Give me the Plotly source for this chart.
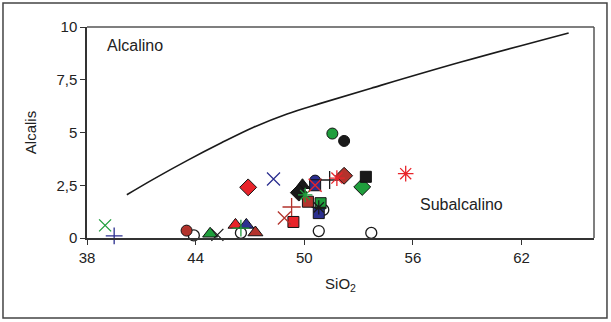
import plotly.graph_objects as go

# Alkaline / subalkaline divide (SiO2, Na2O+K2O)
div_sio2 = [40.2, 41.65, 43.55, 45.4, 47.2, 49.05, 50.9, 53.7, 58.7, 64.6]
div_alk = [2.05, 2.78, 3.68, 4.5, 5.25, 5.88, 6.38, 7.1, 8.35, 9.72]

x_ticks = [38, 44, 50, 56, 62]
y_ticks = [0, 2.5, 5, 7.5, 10]
y_tick_text = ["0", "2,5", "5", "7,5", "10"]

GREEN = "#1f9e3c"
RED = "#e8242a"
BROWN = "#b3332c"
BLUE = "#2b2f8f"
BLACK = "#1a1a1a"

# sample groups: SiO2 values and alkali values
green_x_sio2, green_x_alk = [39.0], [0.6]
blue_plus_sio2, blue_plus_alk = [39.5], [0.1]
brown_circle_sio2, brown_circle_alk = [43.5], [0.35]
open_circle_sio2 = [43.9, 46.5, 51.05, 50.8, 53.7]
open_circle_alk = [0.12, 0.24, 1.33, 0.33, 0.24]
green_tri_sio2, green_tri_alk = [44.8], [0.2]
black_x_sio2, black_x_alk = [45.2], [0.15]
red_tri_sio2, red_tri_alk = [46.2], [0.62]
blue_tri_sio2, blue_tri_alk = [46.8], [0.62]
green_plus_sio2, green_plus_alk = [46.5], [0.47]
brown_tri_sio2, brown_tri_alk = [47.3], [0.26]
red_diam_sio2, red_diam_alk = [46.9], [2.4]
blue_x_sio2, blue_x_alk = [48.3], [2.8]
brown_plus_sio2, brown_plus_alk = [49.3], [1.47]
brown_x_sio2, brown_x_alk = [48.9], [0.95]
red_sq_sio2, red_sq_alk = [49.4], [0.76]
black_tri_sio2, black_tri_alk = [49.9], [2.5]
black_diam_sio2, black_diam_alk = [49.7], [2.15]
green_ast_sio2, green_ast_alk = [50.05], [2.04]
brown_sq_sio2, brown_sq_alk = [50.2], [1.72]
blue_circle_sio2, blue_circle_alk = [50.6], [2.72]
blue_sq_sio2, blue_sq_alk = [50.6, 50.8], [2.5, 1.18]
red_x_sio2, red_x_alk = [50.6], [2.5]
green_sq_sio2, green_sq_alk = [50.9], [1.65]
black_ast_sio2, black_ast_alk = [50.8], [1.45]
black_plus_sio2, black_plus_alk = [51.4], [2.75]
red_ast_sio2, red_ast_alk = [51.8, 55.6], [2.84, 3.05]
brown_diam_sio2, brown_diam_alk = [52.2], [2.95]
green_diam_sio2, green_diam_alk = [53.2], [2.42]
black_sq_sio2, black_sq_alk = [53.4], [2.9]
green_circle_sio2, green_circle_alk = [51.55], [4.95]
black_circle_sio2, black_circle_alk = [52.2], [4.6]

groups = [
    ("open_circle", "circle-open", BLACK, open_circle_sio2, open_circle_alk, 11),
    ("brown_circle", "circle", BROWN, brown_circle_sio2, brown_circle_alk, 11),
    ("green_tri", "triangle-up", GREEN, green_tri_sio2, green_tri_alk, 13),
    ("red_tri", "triangle-up", RED, red_tri_sio2, red_tri_alk, 13),
    ("blue_tri", "triangle-up", BLUE, blue_tri_sio2, blue_tri_alk, 13),
    ("brown_tri", "triangle-up", BROWN, brown_tri_sio2, brown_tri_alk, 13),
    ("red_diam", "diamond", RED, red_diam_sio2, red_diam_alk, 13),
    ("red_sq", "square", RED, red_sq_sio2, red_sq_alk, 11),
    ("black_tri", "triangle-up", BLACK, black_tri_sio2, black_tri_alk, 13),
    ("black_diam", "diamond", BLACK, black_diam_sio2, black_diam_alk, 13),
    ("brown_sq", "square", BROWN, brown_sq_sio2, brown_sq_alk, 11),
    ("blue_circle", "circle", BLUE, blue_circle_sio2, blue_circle_alk, 11),
    ("blue_sq", "square", BLUE, blue_sq_sio2, blue_sq_alk, 11),
    ("green_sq", "square", GREEN, green_sq_sio2, green_sq_alk, 11),
    ("brown_diam", "diamond", BROWN, brown_diam_sio2, brown_diam_alk, 13),
    ("green_diam", "diamond", GREEN, green_diam_sio2, green_diam_alk, 13),
    ("black_sq", "square", BLACK, black_sq_sio2, black_sq_alk, 11),
    ("green_circle", "circle", GREEN, green_circle_sio2, green_circle_alk, 11),
    ("black_circle", "circle", BLACK, black_circle_sio2, black_circle_alk, 11),
    ("green_x", "x-thin-open", GREEN, green_x_sio2, green_x_alk, 12),
    ("blue_plus", "cross-thin-open", BLUE, blue_plus_sio2, blue_plus_alk, 12),
    ("black_x", "x-thin-open", BLACK, black_x_sio2, black_x_alk, 12),
    ("green_plus", "cross-thin-open", GREEN, green_plus_sio2, green_plus_alk, 12),
    ("blue_x", "x-thin-open", BLUE, blue_x_sio2, blue_x_alk, 13),
    ("brown_plus", "cross-thin-open", BROWN, brown_plus_sio2, brown_plus_alk, 13),
    ("brown_x", "x-thin-open", BROWN, brown_x_sio2, brown_x_alk, 13),
    ("green_ast", "asterisk-open", GREEN, green_ast_sio2, green_ast_alk, 12),
    ("red_x", "x-thin-open", RED, red_x_sio2, red_x_alk, 13),
    ("black_ast", "asterisk-open", BLACK, black_ast_sio2, black_ast_alk, 12),
    ("black_plus", "cross-thin-open", BLACK, black_plus_sio2, black_plus_alk, 13),
    ("red_ast", "asterisk-open", RED, red_ast_sio2, red_ast_alk, 13),
]

fig = go.Figure()

fig.add_trace(go.Scatter(
    x=div_sio2, y=div_alk, mode="lines",
    line=dict(color="#1a1a1a", width=1.6, shape="spline", smoothing=1.0),
    showlegend=False, hoverinfo="skip"))

for name, sym, col, xs, ys, size in groups:
    if sym.endswith("-open"):
        marker = dict(symbol=sym, size=size, color=col,
                      line=dict(color=col, width=1.3))
    else:
        marker = dict(symbol=sym, size=size, color=col,
                      line=dict(color="#111111", width=1))
    fig.add_trace(go.Scatter(x=xs, y=ys, mode="markers", name=name,
                             marker=marker, showlegend=False, cliponaxis=False))

FONT = "Liberation Sans, Arial, sans-serif"

fig.update_layout(
    width=611, height=322,
    margin=dict(l=87, r=17, t=27, b=84),
    paper_bgcolor="white", plot_bgcolor="white",
    font=dict(family=FONT, size=15, color="#222222"),
    xaxis=dict(range=[38, 66], tickvals=x_ticks, ticktext=[str(v) for v in x_ticks],
               showgrid=False, zeroline=False, showline=True, linecolor="#333333",
               linewidth=1.5, mirror=False, ticks="outside", ticklen=5,
               tickcolor="#333333", tickfont=dict(size=15),
               title=dict(text="SiO<sub>2</sub>", font=dict(size=15), standoff=14)),
    yaxis=dict(range=[0, 10], tickvals=y_ticks, ticktext=y_tick_text,
               showgrid=False, zeroline=False, showline=True, linecolor="#333333",
               linewidth=1.5, ticks="outside", ticklen=5, tickcolor="#333333",
               tickfont=dict(size=15),
               title=dict(text="Alcalis", font=dict(size=15), standoff=16)),
    shapes=[
        # plot box top and right edges
        dict(type="line", xref="paper", yref="paper", x0=0, x1=1, y0=1, y1=1,
             line=dict(color="#555555", width=1.5)),
        dict(type="line", xref="paper", yref="paper", x0=1, x1=1, y0=0, y1=1,
             line=dict(color="#555555", width=1.5)),
        # outer frame of the figure
        dict(type="rect", xref="paper", yref="paper",
             x0=-0.1657, x1=1.0256, y0=-0.379, y1=1.1137,
             line=dict(color="#444444", width=1.5)),
    ],
    annotations=[
        dict(text="Alcalino", x=39.0, y=9.1, xref="x", yref="y", showarrow=False,
             xanchor="left", yanchor="middle", font=dict(size=16, family=FONT)),
        dict(text="Subalcalino", x=56.3, y=1.6, xref="x", yref="y", showarrow=False,
             xanchor="left", yanchor="middle", font=dict(size=16, family=FONT)),
    ],
)

fig.write_html("out.html")
